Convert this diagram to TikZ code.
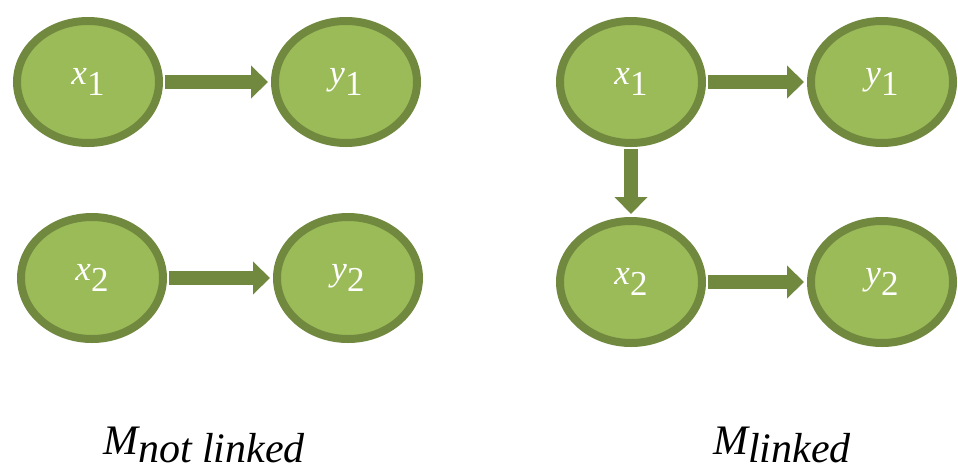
\documentclass[tikz,border=0pt]{standalone}
\usepackage{fontspec}
\newfontfamily\camfont{Liberation Serif}
\usetikzlibrary{shapes.geometric,arrows.meta}
\definecolor{nodefill}{HTML}{9BBB59}
\definecolor{nodeline}{HTML}{71893F}
\newcommand{\vsub}[2]{{\itshape #1}\raisebox{-0.3em}{#2}}
\begin{document}
\begin{tikzpicture}[x=1pt,y=-1pt,
  varnode/.style={ellipse, draw=nodeline, fill=nodefill, line width=8pt,
    minimum width=142pt, minimum height=122pt, inner sep=0pt, text=white,
    font=\camfont\fontsize{35}{40}\selectfont},
  link/.style={draw=nodeline, line width=14pt,
    -{Triangle[length=17pt,width=32pt]}, shorten >=3pt, shorten <=2pt},
  modellabel/.style={anchor=base west, inner sep=0pt,
    font=\camfont\fontsize{42}{48}\selectfont\itshape}]
\useasboundingbox (0,0) rectangle (958,472);
% left model
\node[varnode] (lx1) at (88,82) {\vsub{x}{1}};
\node[varnode] (ly1) at (346,82) {\vsub{y}{1}};
\node[varnode] (lx2) at (92,278) {\vsub{x}{2}};
\node[varnode] (ly2) at (348,278) {\vsub{y}{2}};
\draw[link] (lx1) -- (ly1);
\draw[link] (lx2) -- (ly2);
% right model
\node[varnode] (rx1) at (631,82) {\vsub{x}{1}};
\node[varnode] (ry1) at (882,82) {\vsub{y}{1}};
\node[varnode] (rx2) at (631,282) {\vsub{x}{2}};
\node[varnode] (ry2) at (882,282) {\vsub{y}{2}};
\draw[link] (rx1) -- (ry1);
\draw[link] (rx2) -- (ry2);
\draw[link] (rx1) -- (rx2);
% labels
\node[modellabel] (mnl) at (103,454) {M\raisebox{-8pt}{not linked}};
\node[modellabel] (ml) at (713,454) {M\raisebox{-8pt}{linked}};
\end{tikzpicture}
\end{document}
